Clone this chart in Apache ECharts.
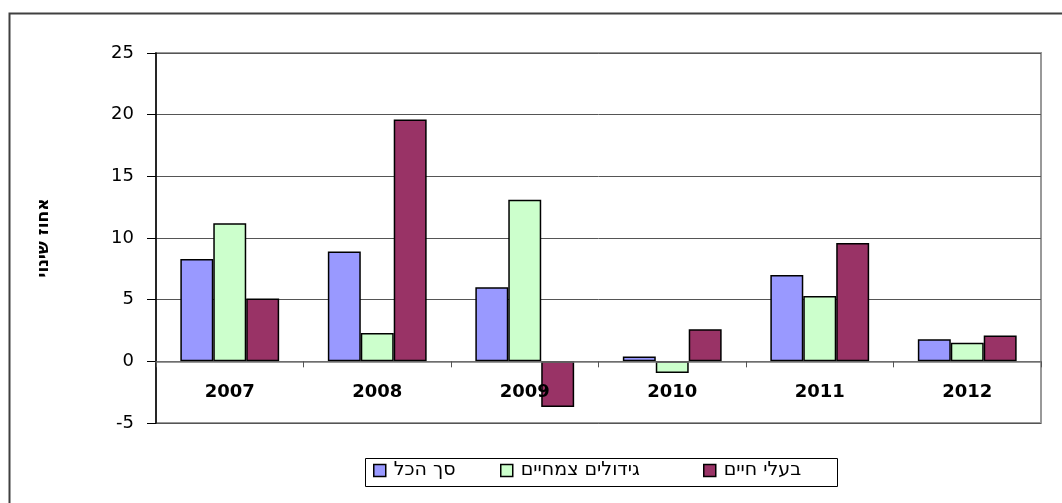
<!DOCTYPE html>
<html>
<head>
<meta charset="utf-8">
<script src="https://cdn.jsdelivr.net/npm/echarts@6/dist/echarts.min.js"></script>
<style>html,body{margin:0;padding:0;background:#fff}#c{width:1062px;height:503px}</style>
</head>
<body>
<div id="c"></div>
<script>
var categories = ['2007', '2008', '2009', '2010', '2011', '2012'];
var seriesNames = ['סך הכל', 'גידולים צמחיים', 'בעלי חיים'];
var totalValues = [8.3, 8.9, 6.0, 0.4, 7.0, 1.8];
var cropValues = [11.2, 2.3, 13.1, -0.95, 5.3, 1.5];
var livestockValues = [5.1, 19.6, -3.7, 2.6, 9.6, 2.1];
var yAxisName = 'אחוז שינוי';

var colors = ['#9999FF', '#CCFFCC', '#993366'];
var legendLefts = [373, 500, 703];
var chart = echarts.init(document.getElementById('c'));
function bar(name, data, color) {
  return {
    name: name, type: 'bar', data: data,
    barGap: '0%', barCategoryGap: '33%',
    itemStyle: { color: color, borderColor: '#000', borderWidth: 1.5 }
  };
}
var legends = seriesNames.map(function (n, i) {
  return {
    left: legendLefts[i], top: 456,
    data: [n],
    itemWidth: 12, itemHeight: 12,
    padding: [5, 0, 5, 0],
    icon: 'rect',
    itemStyle: { borderColor: '#000', borderWidth: 1.5 },
    textStyle: { fontFamily: 'DejaVu Sans', fontSize: 19, color: '#000', padding: [0, 0, 0, 3] }
  };
});
chart.setOption({
  animation: false,
  textStyle: { fontFamily: 'DejaVu Sans' },
  graphic: [{
    type: 'rect', left: 7, top: 11, z: -1,
    shape: { width: 1100, height: 600 },
    style: { fill: 'none', stroke: '#404040', lineWidth: 2 }
  }, {
    type: 'rect', left: 363, top: 456, z: -1,
    shape: { x: 0.5, y: 0.5, width: 472, height: 28 },
    style: { fill: 'none', stroke: '#000', lineWidth: 1 }
  }],
  grid: { left: 156, top: 53, right: 21, bottom: 80, show: true, borderColor: '#999', borderWidth: 2, backgroundColor: 'transparent' },
  legend: legends,
  xAxis: {
    type: 'category', data: categories, z: 10,
    axisLine: { onZero: true, lineStyle: { color: '#777', width: 1.5 } },
    axisTick: { show: true, length: 6, lineStyle: { color: '#555' } },
    axisLabel: { margin: -40, fontFamily: 'DejaVu Sans', fontWeight: 'bold', fontSize: 18, color: '#000' }
  },
  yAxis: {
    type: 'value', min: -5, max: 25, interval: 5,
    name: yAxisName, nameLocation: 'middle', nameRotate: 90, nameGap: 104,
    nameTextStyle: { fontFamily: 'DejaVu Sans', fontWeight: 'bold', fontSize: 17, color: '#000' },
    axisLine: { show: true, lineStyle: { color: '#000', width: 1.5 } },
    axisTick: { show: true, length: 9, lineStyle: { color: '#000' } },
    axisLabel: { margin: 22, fontFamily: 'DejaVu Sans', fontSize: 18, color: '#000' },
    splitLine: { show: true, lineStyle: { color: '#555', width: 1 } }
  },
  series: [
    bar(seriesNames[0], totalValues, colors[0]),
    bar(seriesNames[1], cropValues, colors[1]),
    bar(seriesNames[2], livestockValues, colors[2])
  ]
});
</script>
</body>
</html>
